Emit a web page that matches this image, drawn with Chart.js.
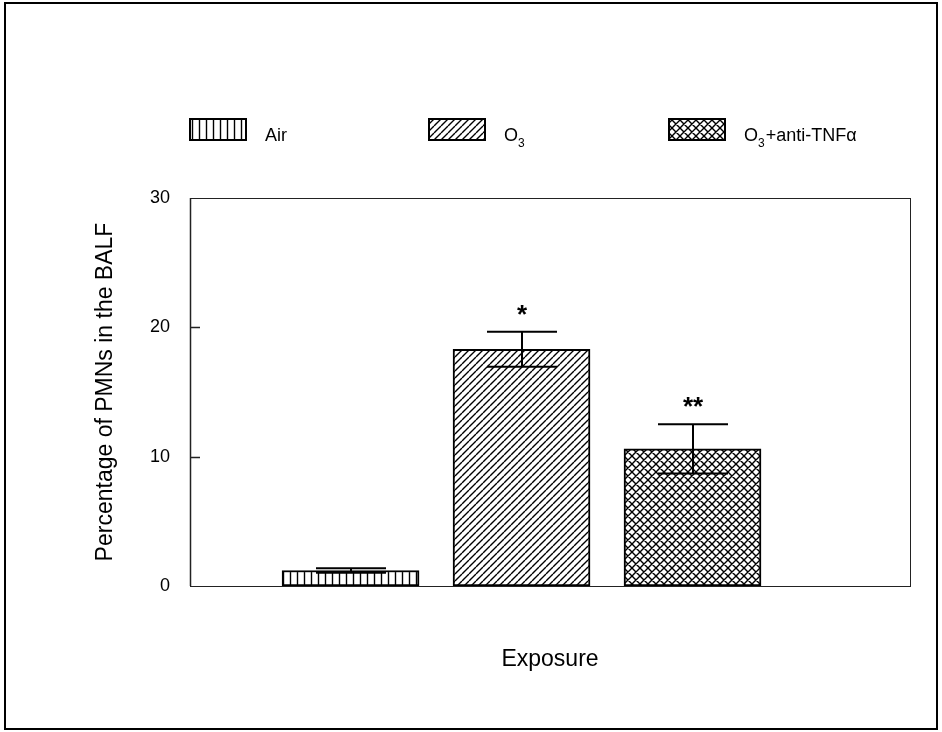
<!DOCTYPE html>
<html lang="en">
<head>
    <meta charset="UTF-8">
    <title>PMNs in the BALF</title>
    <style>
        body { margin: 0; background: #fff; }
        #chartContainer { width: 942px; height: 732px; }
    </style>
</head>
<body>
<div id="chartContainer">
    <canvas id="myChart" width="942" height="732"></canvas>
</div>

<script src="https://cdn.jsdelivr.net/npm/chart.js"></script>
<script>
  // data
  const categories = ['Air', 'O3', 'O3+anti-TNFα'];
  const xPositions = [1, 2, 3];
  const means = [1.2, 18.3, 10.6];
  const errors = [0.18, 1.35, 1.9];
  const marks = ['', '*', '**'];
  const yTicks = [0, 10, 20, 30];
  // legend text, with the subscript split out
  const legendText = [
    [['Air', false]],
    [['O', false], ['3', true]],
    [['O', false], ['3', true], ['+anti-TNFα', false]]
  ];

  const FONT = '"Liberation Sans", Arial, sans-serif';
  const canvas = document.getElementById('myChart');
  const ctx = canvas.getContext('2d');

  // hatch fills like the original plot
  function makePattern(kind, s) {
    const c = document.createElement('canvas');
    c.width = s; c.height = s;
    const p = c.getContext('2d');
    p.fillStyle = '#fff';
    p.fillRect(0, 0, s, s);
    p.strokeStyle = '#000';
    p.lineWidth = 1.4;
    p.beginPath();
    if (kind === 'vert') {
      p.moveTo(s / 2, 0); p.lineTo(s / 2, s);
    } else {
      for (let k = -1; k <= 1; k++) {
        p.moveTo(k * s, s); p.lineTo(k * s + s, 0);
        if (kind === 'cross') { p.moveTo(k * s, 0); p.lineTo(k * s + s, s); }
      }
    }
    p.stroke();
    return ctx.createPattern(c, 'repeat');
  }
  const fills = [makePattern('vert', 7), makePattern('diag', 7), makePattern('cross', 8)];

  // frame, inner ticks, error bars, asterisks and legend
  const extras = {
    id: 'extras',
    afterDatasetsDraw(chart) {
      const c = chart.ctx;
      const a = chart.chartArea;
      const xs = chart.scales.x, ys = chart.scales.y;
      c.save();

      // plot box
      c.strokeStyle = '#222';
      c.lineWidth = 1;
      c.strokeRect(a.left + 0.5, a.top + 0.5, a.right - a.left, a.bottom - a.top);
      c.lineWidth = 1.5;
      c.beginPath();
      c.moveTo(a.left + 0.5, a.top); c.lineTo(a.left + 0.5, a.bottom);
      // inward ticks (the end ones sit on the frame)
      yTicks.slice(1, -1).forEach(v => {
        const y = Math.round(ys.getPixelForValue(v)) + 0.5;
        c.moveTo(a.left, y); c.lineTo(a.left + 10, y);
      });
      c.stroke();

      // error bars
      c.strokeStyle = '#000';
      c.lineWidth = 2;
      c.fillStyle = '#000';
      c.font = 'bold 26px ' + FONT;
      c.textAlign = 'center';
      c.textBaseline = 'alphabetic';
      means.forEach((m, i) => {
        const x = Math.round(xs.getPixelForValue(xPositions[i]));
        const yt = ys.getPixelForValue(m + errors[i]);
        const yb = ys.getPixelForValue(m - errors[i]);
        c.beginPath();
        c.moveTo(x, yt); c.lineTo(x, yb);
        c.moveTo(x - 35, yt); c.lineTo(x + 35, yt);
        c.moveTo(x - 35, yb); c.lineTo(x + 35, yb);
        c.stroke();
        if (marks[i]) c.fillText(marks[i], x, yt - 9);
      });

      // legend
      const boxX = [190, 429, 669];
      c.textAlign = 'left';
      legendText.forEach((parts, i) => {
        c.fillStyle = fills[i];
        c.fillRect(boxX[i], 119, 56, 21);
        c.lineWidth = 2;
        c.strokeStyle = '#000';
        c.strokeRect(boxX[i], 119, 56, 21);
        let tx = boxX[i] + 75;
        c.fillStyle = '#000';
        parts.forEach(([t, sub]) => {
          c.font = (sub ? '12px ' : '18px ') + FONT;
          c.fillText(t, tx, sub ? 147 : 141);
          tx += c.measureText(t).width + (sub ? 1 : 0);
        });
      });

      // outer frame
      c.lineWidth = 2;
      c.strokeStyle = '#000';
      c.strokeRect(5, 3, 932, 726);
      c.restore();
    }
  };

  const chart = new Chart(ctx, {
    type: 'bar',
    data: {
      datasets: [{
        data: xPositions.map((x, i) => ({ x: x, y: means[i] })),
        backgroundColor: fills,
        borderColor: '#000',
        borderWidth: 2,
        borderSkipped: false,
        barThickness: 137
      }]
    },
    options: {
      responsive: false,
      animation: false,
      devicePixelRatio: 1,
      layout: { padding: { top: 198, right: 32, left: 0, bottom: 0 } },
      plugins: { legend: { display: false }, tooltip: { enabled: false } },
      scales: {
        x: {
          type: 'linear',
          offset: false,
          min: 0.061,
          max: 4.272,
          grid: { display: false, drawTicks: false },
          border: { display: false },
          ticks: { display: false },
          title: {
            display: true,
            text: 'Exposure',
            color: '#000',
            font: { family: FONT, size: 23 },
            padding: { top: 0, bottom: 59 }
          },
          afterFit(scale) { scale.height = 146; }
        },
        y: {
          min: 0,
          max: 30,
          grid: { display: false, drawTicks: false },
          border: { display: false },
          ticks: {
            stepSize: 10,
            padding: 20,
            color: '#000',
            font: { family: FONT, size: 18 }
          },
          title: {
            display: true,
            text: 'Percentage of PMNs in the BALF',
            color: '#000',
            font: { family: FONT, size: 23 },
            padding: { top: 92, bottom: 0 }
          },
          afterFit(scale) { scale.width = 190; }
        }
      }
    },
    plugins: [extras]
  });
</script>
</body>
</html>
